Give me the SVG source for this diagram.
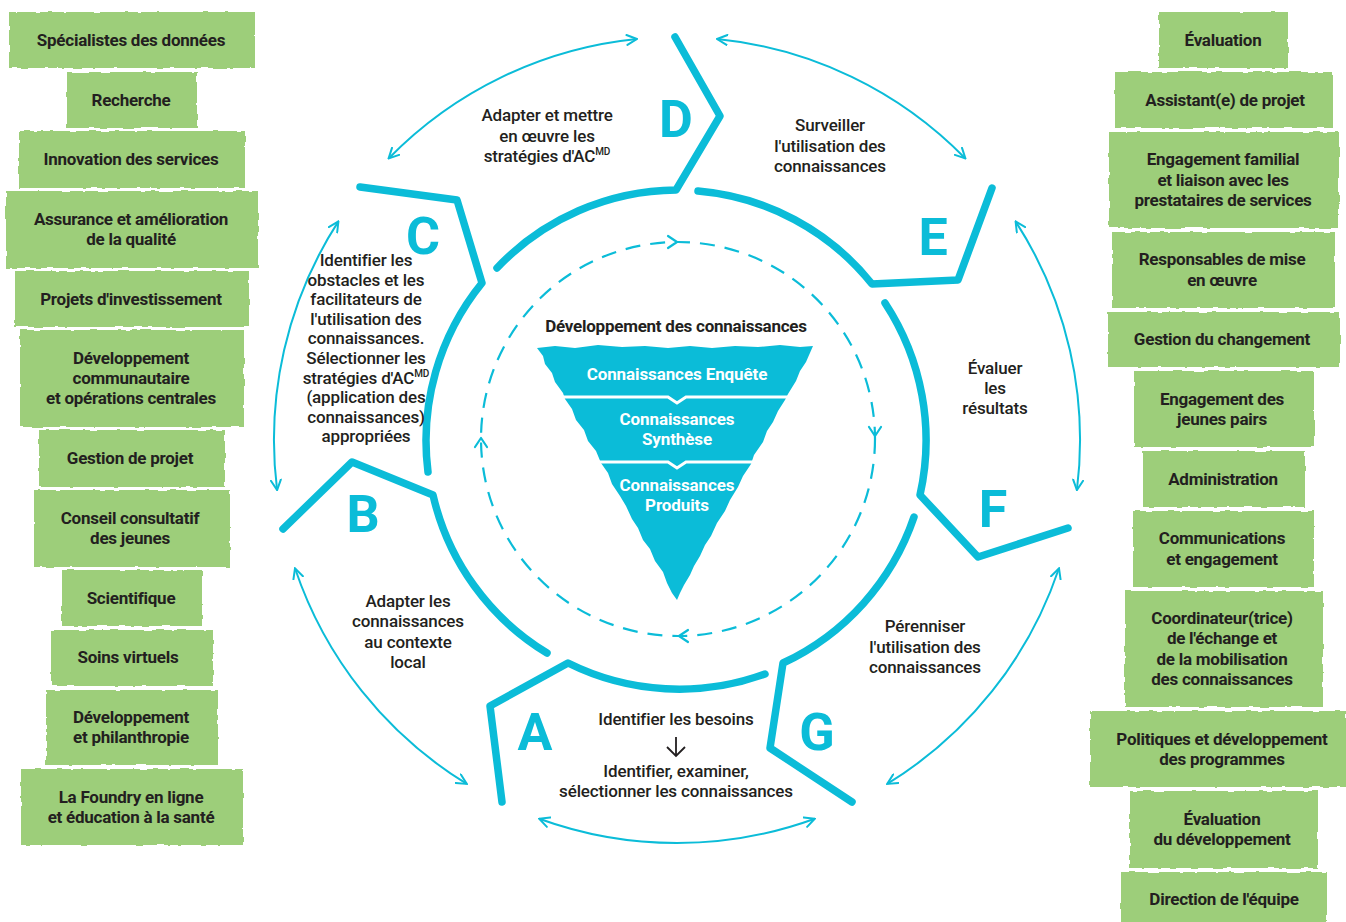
<svg xmlns="http://www.w3.org/2000/svg" width="1346" height="922" viewBox="0 0 1346 922">
<style>
.box{fill:#9dce7a;filter:url(#rough)}
.bt{font-family:Roboto,"Liberation Sans",sans-serif;font-weight:700;font-size:17px;fill:#231f20;text-anchor:middle;letter-spacing:-0.25px}
.lb{font-family:Roboto,"Liberation Sans",sans-serif;font-weight:500;font-size:17px;fill:#231f20;text-anchor:middle;letter-spacing:-0.15px}
.ft{font-family:Roboto,"Liberation Sans",sans-serif;font-weight:700;font-size:17px;fill:#ffffff;text-anchor:middle;letter-spacing:-0.1px}
.big{font-family:Roboto,"Liberation Sans",sans-serif;font-weight:700;font-size:52px;fill:#0bbcd8;text-anchor:middle}
.thick{fill:none;stroke:#0bbcd8;stroke-width:7.5;stroke-linecap:round;stroke-linejoin:round}
.thin{fill:none;stroke:#0bbcd8;stroke-width:2;marker-start:url(#ah);marker-end:url(#ah)}
.dash{fill:none;stroke:#0bbcd8;stroke-width:2.2;stroke-dasharray:15 10}
.chev{fill:none;stroke:#0bbcd8;stroke-width:2.2;stroke-linecap:round;stroke-linejoin:round}
.div{fill:none;stroke:#ffffff;stroke-width:3}
.sup{font-size:10px}
</style>
<defs>
<filter id="rough" x="-3%" y="-8%" width="106%" height="116%">
<feTurbulence type="fractalNoise" baseFrequency="0.09" numOctaves="2" seed="4" result="n"/>
<feDisplacementMap in="SourceGraphic" in2="n" scale="3.5" xChannelSelector="R" yChannelSelector="G"/>
</filter>
<marker id="ah" viewBox="0 0 12 12" refX="11" refY="6" markerWidth="12" markerHeight="12" markerUnits="userSpaceOnUse" orient="auto-start-reverse">
<path d="M1,1 L11,6 L1,11" fill="none" stroke="#0bbcd8" stroke-width="2" stroke-linecap="round"/>
</marker>
</defs>
<rect width="1346" height="922" fill="#ffffff"/>

<g id="connectors">
<path class="thin" d="M388.6,158.5 A403,403 0 0 1 636.9,39"/>
<path class="thin" d="M717.1,39 A403,403 0 0 1 965.4,158.5"/>
<path class="thin" d="M1015.6,221.4 A403,403 0 0 1 1076.9,490.1"/>
<path class="thin" d="M1059,568.3 A403,403 0 0 1 887.2,783.9"/>
<path class="thin" d="M814.8,818.7 A403,403 0 0 1 539.2,818.7"/>
<path class="thin" d="M466.8,783.9 A403,403 0 0 1 295,568.3"/>
<path class="thin" d="M277.1,490.1 A403,403 0 0 1 338.4,221.4"/>
<circle class="dash" cx="678" cy="439" r="197"/>
<path class="chev" d="M668,236 L677,242 L668,248"/>
<path class="chev" d="M869,427 L875,436 L881,427"/>
<path class="chev" d="M688,630 L679,636 L688,642"/>
<path class="chev" d="M475,447 L481,438 L487,447"/>
</g>

<g id="funnel">
<text class="bt" x="676" y="332" font-size="16">Développement des connaissances</text>
<polygon fill="#0bbcd8" points="537,348 555,346 575,348 598,345 622,347 645,346 668,348 690,346 712,348 735,346 758,347 780,345 800,347 813,346 806,362 800,371 796,381 788,394 785,400 778,411 773,422 767,431 763,442 754,455 751,464 743,476 738,487 730,500 725,511 717,523 711,536 705,545 700,556 694,566 690,575 684,585 680,593 677,600 672,593 667,583 663,572 655,561 650,549 643,540 638,528 632,519 626,506 620,496 612,484 608,473 601,463 596,451 588,441 584,430 576,420 572,409 565,399 563,393 555,382 552,373 545,364 543,356"/>
<path class="div" d="M560,397 L668,397 L677,403 L686,397 L792,397"/>
<path class="div" d="M596,462 L668,462 L677,468 L686,462 L756,462"/>
<text class="ft" x="677" y="380">Connaissances Enquête</text>
<text class="ft" x="677" y="425">Connaissances<tspan x="677" dy="20">Synthèse</tspan></text>
<text class="ft" x="677" y="491">Connaissances<tspan x="677" dy="20">Produits</tspan></text>
</g>

<g id="stage-A">
<path class="thick" d="M765,674 A250,250 0 0 1 568,663 L490,706 L502,802"/>
<text class="big" x="535" y="750">A</text>
<text class="lb" x="676" y="725">Identifier les besoins</text>
<path d="M676,737 L676,756 M667,747 L676,756 L685,747" fill="none" stroke="#231f20" stroke-width="1.8"/>
<text class="lb" x="676" y="777">Identifier, examiner,<tspan x="676" dy="20">sélectionner les connaissances</tspan></text>
</g>

<g id="stage-B">
<path class="thick" d="M547,653 A250,250 0 0 1 433,495 L352,462 L283,529"/>
<text class="big" x="363" y="532">B</text>
<text class="lb" x="408" y="607">Adapter les<tspan x="408" dy="20.3">connaissances</tspan><tspan x="408" dy="20.3">au contexte</tspan><tspan x="408" dy="20.3">local</tspan></text>
</g>

<g id="stage-C">
<path class="thick" d="M428,472 A250,250 0 0 1 482,283 L457,200 L360,187"/>
<text class="big" x="423" y="254">C</text>
<text class="lb" x="366" y="266">Identifier les<tspan x="366" dy="19.6">obstacles et les</tspan><tspan x="366" dy="19.6">facilitateurs de</tspan><tspan x="366" dy="19.6">l'utilisation des</tspan><tspan x="366" dy="19.6">connaissances.</tspan><tspan x="366" dy="19.6">Sélectionner les</tspan><tspan x="366" dy="19.6">stratégies d'AC<tspan class="sup" dy="-7">MD</tspan></tspan><tspan x="366" dy="26.6">(application des</tspan><tspan x="366" dy="19.6">connaissances)</tspan><tspan x="366" dy="19.6">appropriées</tspan></text>
</g>

<g id="stage-D">
<path class="thick" d="M675,37 L720,116 L676,190 A250,250 0 0 0 497,268"/>
<text class="big" x="676" y="137">D</text>
<text class="lb" x="547" y="121">Adapter et mettre<tspan x="547" dy="20.5">en œuvre les</tspan><tspan x="547" dy="20.5">stratégies d'AC<tspan class="sup" dy="-7">MD</tspan></tspan></text>
</g>

<g id="stage-E">
<path class="thick" d="M698,191 A250,250 0 0 1 872,284 L958,280 L992,188"/>
<text class="big" x="933" y="255">E</text>
<text class="lb" x="830" y="131">Surveiller<tspan x="830" dy="20.5">l'utilisation des</tspan><tspan x="830" dy="20.5">connaissances</tspan></text>
</g>

<g id="stage-F">
<path class="thick" d="M885,303 A250,250 0 0 1 920,495 L978,557 L1068,528"/>
<text class="big" x="993" y="527">F</text>
<text class="lb" x="995" y="374">Évaluer<tspan x="995" dy="20">les</tspan><tspan x="995" dy="20">résultats</tspan></text>
</g>

<g id="stage-G">
<path class="thick" d="M914,517 A250,250 0 0 1 783,663 L770,748 L852,802"/>
<text class="big" x="817" y="750">G</text>
<text class="lb" x="925" y="632">Pérenniser<tspan x="925" dy="20.5">l'utilisation des</tspan><tspan x="925" dy="20.5">connaissances</tspan></text>
</g>

<g id="left-1"><rect class="box" x="9" y="12" width="246" height="56"/><text class="bt" x="131" y="46">Spécialistes des données</text></g>
<g id="left-2"><rect class="box" x="67" y="72" width="130" height="56"/><text class="bt" x="131" y="106">Recherche</text></g>
<g id="left-3"><rect class="box" x="19" y="131" width="226" height="57"/><text class="bt" x="131" y="165">Innovation des services</text></g>
<g id="left-4"><rect class="box" x="6" y="191" width="252" height="77"/><text class="bt" x="131" y="225">Assurance et amélioration<tspan x="131" dy="20">de la qualité</tspan></text></g>
<g id="left-5"><rect class="box" x="15" y="271" width="234" height="56"/><text class="bt" x="131" y="305">Projets d'investissement</text></g>
<g id="left-6"><rect class="box" x="20" y="330" width="224" height="97"/><text class="bt" x="131" y="364">Développement<tspan x="131" dy="20">communautaire</tspan><tspan x="131" dy="20">et opérations centrales</tspan></text></g>
<g id="left-7"><rect class="box" x="39" y="430" width="186" height="57"/><text class="bt" x="130" y="464">Gestion de projet</text></g>
<g id="left-8"><rect class="box" x="34" y="490" width="196" height="77"/><text class="bt" x="130" y="524">Conseil consultatif<tspan x="130" dy="20">des jeunes</tspan></text></g>
<g id="left-9"><rect class="box" x="62" y="570" width="140" height="56"/><text class="bt" x="131" y="604">Scientifique</text></g>
<g id="left-10"><rect class="box" x="51" y="630" width="162" height="56"/><text class="bt" x="128" y="663">Soins virtuels</text></g>
<g id="left-11"><rect class="box" x="46" y="690" width="172" height="75"/><text class="bt" x="131" y="723">Développement<tspan x="131" dy="20">et philanthropie</tspan></text></g>
<g id="left-12"><rect class="box" x="21" y="769" width="222" height="76"/><text class="bt" x="131" y="803">La Foundry en ligne<tspan x="131" dy="20">et éducation à la santé</tspan></text></g>

<g id="right-1"><rect class="box" x="1159" y="12" width="129" height="56"/><text class="bt" x="1223" y="46">Évaluation</text></g>
<g id="right-2"><rect class="box" x="1115" y="72" width="218" height="56"/><text class="bt" x="1225" y="106">Assistant(e) de projet</text></g>
<g id="right-3"><rect class="box" x="1109" y="132" width="230" height="96"/><text class="bt" x="1223" y="165">Engagement familial<tspan x="1223" dy="20.5">et liaison avec les</tspan><tspan x="1223" dy="20.5">prestataires de services</tspan></text></g>
<g id="right-4"><rect class="box" x="1112" y="232" width="223" height="76"/><text class="bt" x="1222" y="265">Responsables de mise<tspan x="1222" dy="21">en œuvre</tspan></text></g>
<g id="right-5"><rect class="box" x="1108" y="312" width="232" height="55"/><text class="bt" x="1222" y="345">Gestion du changement</text></g>
<g id="right-6"><rect class="box" x="1134" y="371" width="180" height="76"/><text class="bt" x="1222" y="405">Engagement des<tspan x="1222" dy="20">jeunes pairs</tspan></text></g>
<g id="right-7"><rect class="box" x="1143" y="451" width="162" height="56"/><text class="bt" x="1223" y="485">Administration</text></g>
<g id="right-8"><rect class="box" x="1133" y="511" width="181" height="76"/><text class="bt" x="1222" y="544">Communications<tspan x="1222" dy="21">et engagement</tspan></text></g>
<g id="right-9"><rect class="box" x="1125" y="591" width="198" height="116"/><text class="bt" x="1222" y="624">Coordinateur(trice)<tspan x="1222" dy="20.3">de l'échange et</tspan><tspan x="1222" dy="20.3">de la mobilisation</tspan><tspan x="1222" dy="20.3">des connaissances</tspan></text></g>
<g id="right-10"><rect class="box" x="1090" y="711" width="256" height="76"/><text class="bt" x="1222" y="745">Politiques et développement<tspan x="1222" dy="20">des programmes</tspan></text></g>
<g id="right-11"><rect class="box" x="1130" y="791" width="188" height="77"/><text class="bt" x="1222" y="825">Évaluation<tspan x="1222" dy="20">du développement</tspan></text></g>
<g id="right-12"><rect class="box" x="1121" y="872" width="206" height="56"/><text class="bt" x="1224" y="905">Direction de l'équipe</text></g>
</svg>
